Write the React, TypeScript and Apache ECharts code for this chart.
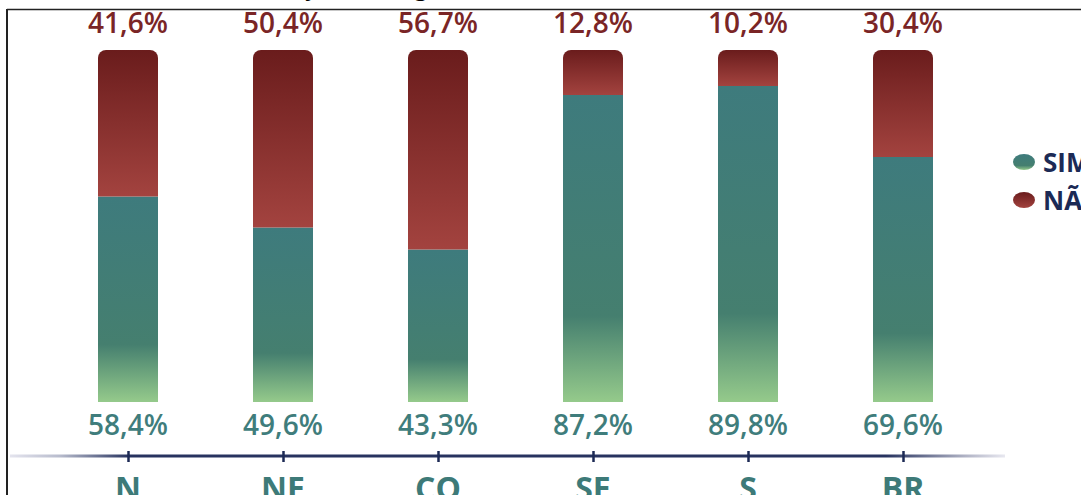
import React, { useEffect, useRef } from "react";
import * as echarts from "echarts";

const categories = ["N", "NE", "CO", "SE", "S", "BR"];
const simValues = [58.4, 49.6, 43.3, 87.2, 89.8, 69.6];
const naoValues = [41.6, 50.4, 56.7, 12.8, 10.2, 30.4];
const seriesNames = ["SIM", "NÃO"];
const titleText = "Distribuição das regiões";

const fmt = (v: number) => v.toFixed(1).replace(".", ",") + "%";
const ellipse = "path://M50 0 A50 50 0 1 1 50 100 A50 50 0 1 1 50 0 Z";

export default function App() {
  const ref = useRef<HTMLDivElement>(null);
  useEffect(() => {
    if (!ref.current) return;
    const chart = echarts.init(ref.current, null, { renderer: "svg" });
    const simGrad = new echarts.graphic.LinearGradient(0, 0, 0, 1, [
      { offset: 0, color: "#3e7b7d" },
      { offset: 0.72, color: "#457f6f" },
      { offset: 1, color: "#95ca8b" },
    ]);
    const naoGrad = new echarts.graphic.LinearGradient(0, 0, 0, 1, [
      { offset: 0, color: "#6a1c1c" },
      { offset: 1, color: "#a3433f" },
    ]);
    const axisGrad = new echarts.graphic.LinearGradient(
      10, 0, 1005, 0,
      [
        { offset: 0, color: "#e4e4ee" },
        { offset: 0.05, color: "#b8bccd" },
        { offset: 0.12, color: "#27335f" },
        { offset: 0.88, color: "#27335f" },
        { offset: 0.96, color: "#b0b3c5" },
        { offset: 1, color: "#e8e8f0" },
      ],
      true
    );
    const font = "'Open Sans', 'Noto Sans', sans-serif";
    chart.setOption({
      animation: false,
      grid: { left: 50.5, right: 100.5, top: 50, bottom: 93, outerBoundsMode: "none", containLabel: false },
      legend: {
        orient: "vertical",
        left: 1008,
        top: 144,
        itemWidth: 22,
        itemHeight: 16,
        itemGap: 12,
        symbolKeepAspect: false,
        data: seriesNames.map((n) => ({ name: n, icon: ellipse })),
        textStyle: { fontSize: 26, fontWeight: "bold", color: "#1c2a55", fontFamily: font, padding: [0, 0, 0, 3] },
      },
      xAxis: {
        type: "category",
        data: categories,
        offset: 49,
        axisLine: { show: true, onZero: false, lineStyle: { color: "rgba(0,0,0,0)", width: 0 } },
        axisTick: {
          show: true,
          alignWithLabel: true,
          length: 11,
          lineStyle: { color: "#1c2a55", width: 2.5 },
        },
        axisLabel: {
          margin: 20,
          fontSize: 32,
          fontWeight: "bold",
          color: "#3d7a78",
          fontFamily: font,
        },
      },
      yAxis: { type: "value", min: 0, max: 100, show: false },
      series: [
        {
          name: seriesNames[0],
          type: "bar",
          stack: "total",
          barWidth: 60,
          data: simValues,
          itemStyle: { color: simGrad },
          label: {
            show: true,
            position: "bottom",
            distance: 8,
            formatter: (p: any) => fmt(p.value),
            fontSize: 28,
            fontWeight: 600,
            color: "#3f7d7c",
            fontFamily: font,
          },
        },
        {
          name: seriesNames[1],
          type: "bar",
          stack: "total",
          barWidth: 60,
          data: naoValues,
          itemStyle: { color: naoGrad, borderRadius: [8, 8, 0, 0] },
          label: {
            show: true,
            position: "top",
            distance: 14,
            formatter: (p: any) => fmt(p.value),
            fontSize: 28,
            fontWeight: 600,
            color: "#7a2526",
            fontFamily: font,
          },
        },
      ],
      graphic: [
        {
          type: "text",
          x: 202,
          y: -15,
          style: {
            text: titleText,
            font: "28px 'Liberation Serif', serif",
            fill: "#000",
            verticalAlign: "middle",
            align: "left",
          },
        },
        { type: "line", shape: { x1: 7, y1: 9.5, x2: 1081, y2: 9.5 }, style: { stroke: "#222", lineWidth: 1.5 } },
        { type: "line", shape: { x1: 7, y1: 9, x2: 7, y2: 495 }, style: { stroke: "#222", lineWidth: 2 } },
        { type: "line", shape: { x1: 10, y1: 456, x2: 1005, y2: 456 }, style: { stroke: axisGrad, lineWidth: 3 } },
      ],
    });
    return () => chart.dispose();
  }, []);
  return (
    <div
      ref={ref}
      style={{ position: "fixed", left: 0, top: 0, width: 1081, height: 495, background: "#fff" }}
    />
  );
}
